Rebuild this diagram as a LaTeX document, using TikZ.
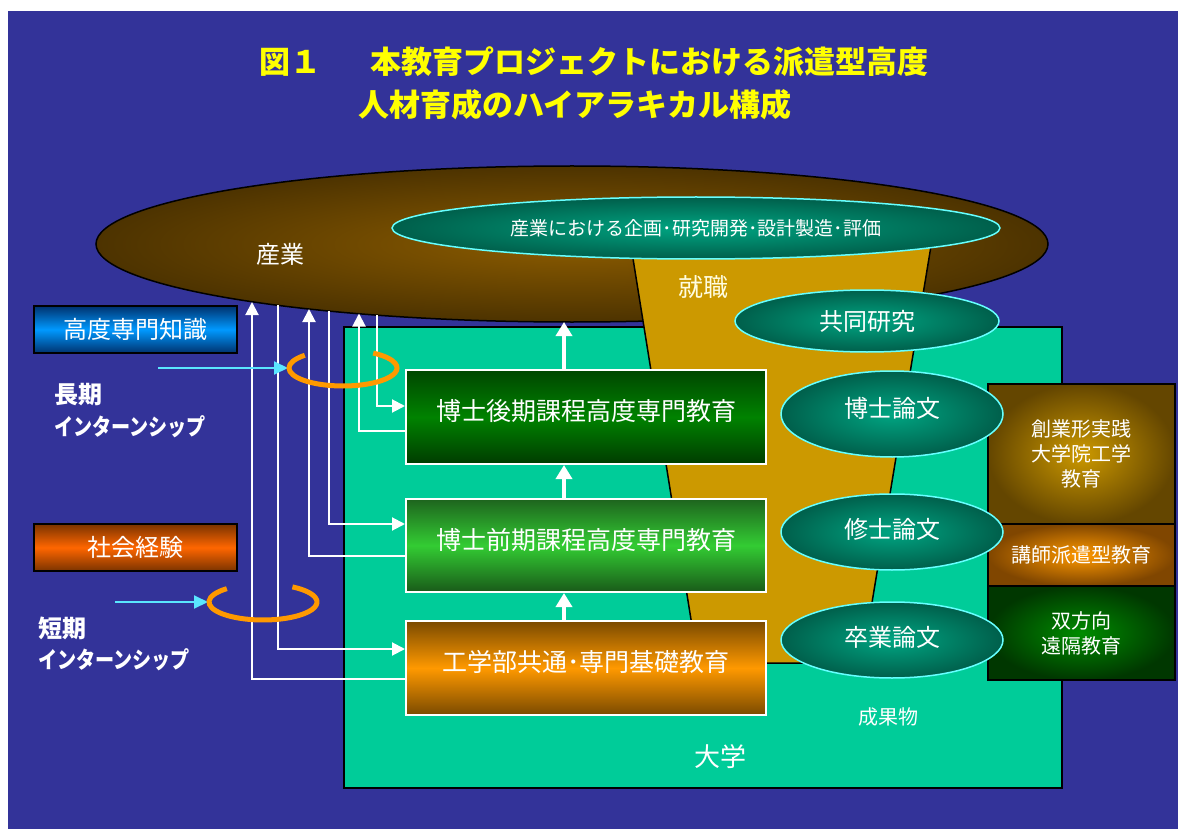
\documentclass[tikz,border=0pt]{standalone}
\usepackage{fontspec}
\setmainfont{Noto Sans CJK JP}
\usetikzlibrary{arrows.meta,shapes.geometric}
\definecolor{bgblue}{RGB}{51,51,153}
\definecolor{uniteal}{RGB}{0,204,153}
\definecolor{gold}{RGB}{204,153,0}
\definecolor{brownin}{RGB}{140,92,0}
\definecolor{brownout}{RGB}{77,51,0}
\definecolor{tealin}{RGB}{0,165,130}
\definecolor{tealout}{RGB}{0,95,75}
\definecolor{cyanline}{RGB}{102,255,255}
\definecolor{ringor}{RGB}{255,153,0}
\definecolor{arrcyan}{RGB}{90,230,255}
\newcommand{\fs}[1]{\fontsize{#1}{#1}\selectfont}
\newcommand{\up}[2]{\raisebox{#1}[\height][\depth]{#2}}
\begin{document}
\begin{tikzpicture}[x=1pt,y=-1pt,
  wl/.style={draw=white, line width=2pt},
  wa/.style={wl, -{Triangle[width=13pt,length=13pt]}},
  ba/.style={draw=white, line width=3.5pt, -{Triangle[width=16pt,length=14pt]}},
  ca/.style={draw=arrcyan, line width=2pt, -{Triangle[width=13pt,length=14pt]}},
  ring/.style={draw=ringor, line width=5pt},
  tel/.style={ellipse, draw=cyanline, line width=1.5pt, inner color=tealin, outer color=tealout, inner sep=0, text=white},
  gbox/.style={draw=white, line width=2pt, minimum width=360pt, inner sep=0, text=white, font=\fs{25}},
  rbox/.style={draw=black, line width=2.5pt, minimum width=187pt, inner sep=0, text=white, font=\fs{20}, align=center},
  lbox/.style={draw=black, line width=2pt, minimum width=203pt, minimum height=47pt, inner sep=0, text=white, font=\fs{24}},
  lbl/.style={inner sep=0, text=white},
]
\useasboundingbox (0,0) rectangle (1178,829);
\fill[white] (0,0) rectangle (1178,829);
\fill[bgblue] (8,11) rectangle (1178,829);

% title
\node[lbl, text={rgb,255:red,255;green,255;blue,0}, anchor=west, font=\fs{31}\bfseries] (t1) at (259,62) {図１\hspace{49pt}本教育プロジェクトにおける派遣型高度};
\node[lbl, text={rgb,255:red,255;green,255;blue,0}, anchor=west, font=\fs{31}\bfseries] (t2) at (358,105) {人材育成のハイアラキカル構成};

% industry ellipse
\node[ellipse, draw=black, line width=1.5pt, inner color=brownin, outer color=brownout, minimum width=952pt, minimum height=156pt, inner sep=0] (ind) at (572,244) {};
\node[lbl, font=\fs{24}] (indl) at (280,254) {産業};

% university rectangle
\node[draw=black, line width=2pt, fill=uniteal, minimum width=718pt, minimum height=461pt, inner sep=0] (univ) at (703,557.5) {};

% funnel
\filldraw[fill=gold, draw=black, line width=1.5pt] (630,240) -- (932,240) -- (862,663) -- (698,663) -- cycle;
\node[lbl, text=white!88!yellow, font=\fs{25}] (shu) at (703,287) {就職};

% inner ellipses
\node[tel, minimum width=608pt, minimum height=62pt, font=\fs{19}] (plan) at (696,228) {産業における企画･研究開発･設計製造･評価};
\node[tel, minimum width=264pt, minimum height=62pt, font=\fs{24}] (kyo) at (867,321) {共同研究};

% right boxes
\node[rbox, minimum height=140pt, inner color=gold, outer color={rgb,255:red,100;green,70;blue,0}] (sg) at (1081.5,454) {創業形実践\\[5pt]大学院工学\\[5pt]教育};
\node[rbox, minimum height=62pt, inner color={rgb,255:red,255;green,153;blue,0}, outer color={rgb,255:red,128;green,70;blue,0}] (kh) at (1081.5,555) {講師派遣型教育};
\node[rbox, minimum height=94pt, inner color={rgb,255:red,0;green,140;blue,0}, outer color={rgb,255:red,0;green,55;blue,0}] (sh) at (1081.5,633) {双方向\\[5pt]遠隔教育};

% thesis ellipses
\node[tel, minimum width=222pt, minimum height=86pt, font=\fs{24}] (dr) at (892,414) {\up{6pt}{博士論文}};
\node[tel, minimum width=222pt, minimum height=76pt, font=\fs{24}] (ms) at (892,532) {\up{3pt}{修士論文}};
\node[tel, minimum width=222pt, minimum height=76pt, font=\fs{24}] (bs) at (892,640) {\up{3pt}{卒業論文}};

\node[lbl, font=\fs{20}] (seika) at (888,717) {成果物};
\node[lbl, font=\fs{26}] (daig) at (720,757) {大学};

% education boxes
\node[gbox, minimum height=94pt, shading=axis, top color={rgb,255:red,0;green,70;blue,0}, bottom color={rgb,255:red,0;green,60;blue,0}, middle color={rgb,255:red,0;green,130;blue,0}] (dk) at (586,417) {\up{6pt}{博士後期課程高度専門教育}};
\node[gbox, minimum height=93pt, shading=axis, top color={rgb,255:red,30;green,100;blue,30}, bottom color={rgb,255:red,25;green,90;blue,25}, middle color={rgb,255:red,51;green,204;blue,51}] (mk) at (586,545.5) {\up{6pt}{博士前期課程高度専門教育}};
\node[gbox, minimum height=94pt, shading=axis, top color={rgb,255:red,122;green,74;blue,0}, bottom color={rgb,255:red,122;green,74;blue,0}, middle color={rgb,255:red,255;green,153;blue,0}] (kou) at (586,668) {\up{6pt}{工学部共通･専門基礎教育}};

% left boxes
\node[lbox, shading=axis, top color={rgb,255:red,0;green,50;blue,110}, bottom color={rgb,255:red,0;green,50;blue,110}, middle color={rgb,255:red,0;green,153;blue,255}] (kd) at (135.5,329.5) {高度専門知識};
\node[lbox, shading=axis, top color={rgb,255:red,122;green,51;blue,0}, bottom color={rgb,255:red,122;green,51;blue,0}, middle color={rgb,255:red,255;green,102;blue,0}] (sk) at (135.5,547.5) {社会経験};

\node[lbl, anchor=west, font=\fs{24}\bfseries] (ch1) at (54,395) {長期};
\node[lbl, anchor=west, font=\fs{23}\bfseries] (ch2) at (54,427) {\scalebox{0.83}[1]{インターンシップ}};
\node[lbl, anchor=west, font=\fs{24}\bfseries] (tn1) at (38,628) {短期};
\node[lbl, anchor=west, font=\fs{23}\bfseries] (tn2) at (38,660) {\scalebox{0.83}[1]{インターンシップ}};

% points on the industry ellipse
\coordinate (iA) at (252,302);
\coordinate (iB) at (278,305);
\coordinate (iC) at (309,309);
\coordinate (iD) at (329,311);
\coordinate (iE) at (359,313.5);
\coordinate (iF) at (377,315);
\coordinate (i0) at (564,322);

% white connectors
\draw[wa] ([yshift=-11pt]kou.west) -| (iA);
\draw[wa] (iB) |- ([yshift=19pt]kou.west);
\draw[wa] ([yshift=-10.5pt]mk.west) -| (iC);
\draw[wa] (iD) |- ([yshift=21.5pt]mk.west);
\draw[wa] ([yshift=-14pt]dk.west) -| (iE);
\draw[wa] (iF) |- ([yshift=11pt]dk.west);

\draw[ba] ([xshift=-22pt]kou.north) -- ([xshift=-22pt]mk.south);
\draw[ba] ([xshift=-22pt]mk.north) -- ([xshift=-22pt]dk.south);
\draw[ba] ([xshift=-22pt]dk.north) -- (i0);

% cyan arrows and rings
\coordinate (c1s) at (158,368);
\coordinate (r1w) at (288,368);
\coordinate (c2s) at (115,602);
\coordinate (r2w) at (208,602);
\draw[ca] (c1s) -- (r1w);
\draw[ca] (c2s) -- (r2w);
\draw[ring] (343,368) ++(135:54pt and 18pt) arc[start angle=135, end angle=416, x radius=54pt, y radius=18pt];
\draw[ring] (263,602) ++(132:54pt and 18pt) arc[start angle=132, end angle=417, x radius=54pt, y radius=18pt];
\end{tikzpicture}
\end{document}
